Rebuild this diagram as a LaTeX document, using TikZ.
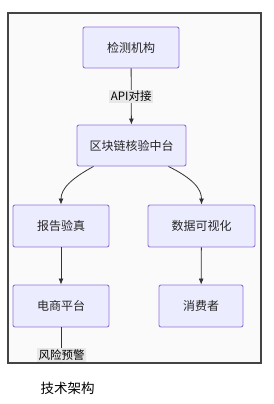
\documentclass[tikz,border=0pt]{standalone}
\usepackage{fontspec}
\setmainfont{Noto Sans CJK SC}
\usetikzlibrary{arrows.meta,calc}
\definecolor{nodefill}{HTML}{ECECFF}
\definecolor{nodeline}{HTML}{9370DB}
\definecolor{edgecol}{HTML}{333333}
\definecolor{framefill}{HTML}{FAFAFA}
\definecolor{framecol}{HTML}{444444}
\definecolor{lblfill}{HTML}{E8E8E8}
\tikzset{
  box/.style={draw=nodeline, fill=nodefill, line width=0.9pt, rounded corners=2pt,
    minimum height=41pt, font=\fontsize{12}{14}\selectfont, text=black!85, inner sep=0pt},
  edge/.style={draw=edgecol, line width=0.8pt, -{Latex[length=6pt,width=5pt]}},
  plainedge/.style={draw=edgecol, line width=0.8pt},
  lbl/.style={fill=lblfill, font=\fontsize{11.5}{13}\selectfont, text=black, inner sep=1.5pt}
}
\begin{document}
\begin{tikzpicture}[x=1pt,y=-1pt]
\useasboundingbox (0,0) rectangle (273,404);
\fill[white] (0,0) rectangle (273,404);
\draw[framecol, fill=framefill, line width=1.2pt] (8,13) rectangle (261,363);
\begin{scope}
\clip (8.6,13.6) rectangle (260.4,362.4);
\node[box, minimum width=96pt] (jc) at (131,47.5) {检测机构};
\node[box, minimum width=109pt] (qk) at (131.5,145.5) {区块链核验中台};
\node[box, minimum width=96pt, minimum height=42pt] (bg) at (61,226) {报告验真};
\node[box, minimum width=107pt, minimum height=42pt] (sj) at (201.5,226) {数据可视化};
\node[box, minimum width=96pt, minimum height=42pt] (ds) at (61,306) {电商平台};
\node[box, minimum width=84pt, minimum height=42pt] (xf) at (201,306) {消费者};
\coordinate (out) at (61,390);
\draw[edge] (jc) -- node[lbl] (l1) {API对接} (qk);
\coordinate (qkl) at ($(qk.south)+(-38,0)$);
\coordinate (qkr) at ($(qk.south)+(37,0)$);
\draw[edge] (qkl) .. controls ($(qkl)+(-22,12)$) and ($(bg.north)+(0,-16)$) .. (bg.north);
\draw[edge] (qkr) .. controls ($(qkr)+(24,12)$) and ($(sj.north)+(0,-16)$) .. (sj.north);
\draw[edge] (bg) -- (ds);
\draw[edge] (sj) -- (xf);
\draw[plainedge] (ds.south) -- (out);
\node[lbl] (l2) at (61.5,355) {风险预警};
\end{scope}
\node[font=\fontsize{13.5}{16}\selectfont, text=black] (cap) at (67.5,388) {技术架构};
\end{tikzpicture}
\end{document}
